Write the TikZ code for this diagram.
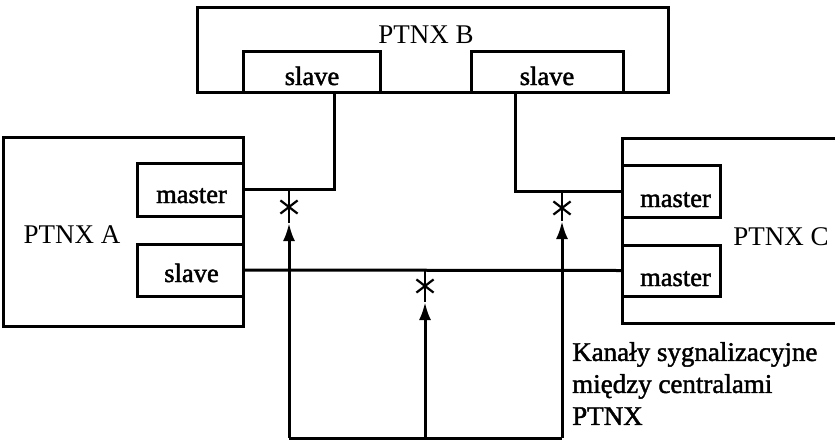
\documentclass[tikz,border=0pt]{standalone}
\usepackage{fontspec}
\setmainfont{Liberation Serif}
\newfontfamily\heavyfont[FakeBold=1.6]{Liberation Serif}
\usetikzlibrary{arrows.meta,shapes.misc}
\tikzset{
  box/.style={draw, line width=3pt, inner sep=0pt, outer sep=0pt, rectangle},
  big/.style={font=\fontsize{27}{30}\selectfont, inner sep=0pt, anchor=base},
  small/.style={font=\heavyfont\fontsize{26.5}{30}\selectfont, inner sep=0pt, anchor=base},
  conn/.style={line width=3pt},
  thinconn/.style={line width=1.5pt},
  arr/.style={line width=3pt, -{Latex[length=18pt,width=12pt]}},
  ast/.style={cross out, draw, line width=2.2pt, minimum width=15pt, minimum height=11pt, inner sep=0pt}
}
\begin{document}
\begin{tikzpicture}[x=1pt,y=-1pt]
\clip (0,0) rectangle (835,440);
\fill[white] (0,0) rectangle (835,440);
% boxes
\node[box, minimum width=239.5pt, minimum height=189pt] (A) at (123.25,231.5) {};
\node[box, minimum width=106pt, minimum height=53pt] (MA) at (190,189.5) {};
\node[box, minimum width=106pt, minimum height=52pt] (SA) at (190,270) {};
\node[box, minimum width=471pt, minimum height=85pt] (B) at (432.5,49.5) {};
\node[box, minimum width=137pt, minimum height=41pt] (SBL) at (311.5,71.5) {};
\node[box, minimum width=152pt, minimum height=41pt] (SBR) at (547,71.5) {};
\node[box, minimum width=238pt, minimum height=185pt] (C) at (741,230.5) {};
\node[box, minimum width=98pt, minimum height=52pt] (MC1) at (671,191) {};
\node[box, minimum width=98pt, minimum height=51pt] (MC2) at (671,270.5) {};
% labels
\node[big] (Blab) at (426,43) {PTNX B};
\node[big] (Alab) at (72,243) {PTNX A};
\node[big] (Clab) at (781,245) {PTNX C};
\node[small] (SBLlab) at (312,85) {slave};
\node[small] (SBRlab) at (547,85) {slave};
\node[small] (MAlab) at (191.5,203) {master};
\node[small] (SAlab) at (191.5,282) {slave};
\node[small] (MC1lab) at (675.5,207) {master};
\node[small] (MC2lab) at (675.5,286) {master};
\node[font=\heavyfont\fontsize{27}{32}\selectfont, align=left, inner sep=0pt, anchor=north west] (K) at (572,342)
  {Kanały sygnalizacyjne\\między centralami\\PTNX};
% junction coordinates
\coordinate (jL) at (334,189.5);
\coordinate (jR) at (515,191);
\coordinate (j1) at (289,189.5);
\coordinate (j2) at (425,270);
\coordinate (j3) at (562,191);
\coordinate (t1) at (289,223);
\coordinate (t2) at (425,302);
\coordinate (t3) at (562,221);
\coordinate (b1) at (289,438);
\coordinate (b2) at (425,438);
\coordinate (b3) at (562,438);
% connectors between ports
\draw[conn] (SBL.south -| jL) |- (MA.east);
\draw[conn] (SBR.south -| jR) |- (MC1.west);
\draw[conn] (SA.east) -- (MC2.west);
% signalling channels
\draw[conn] (b1) -- (b3);
\draw[arr] (b1) -- (t1);
\draw[arr] (b2) -- (t2);
\draw[arr] (b3) -- (t3);
\draw[thinconn] (t1) -- (j1);
\draw[thinconn] (t2) -- (j2);
\draw[thinconn] (t3) -- (j3);
\node[ast] (x1) at (289,207) {};
\node[ast] (x2) at (425,286) {};
\node[ast] (x3) at (562,208) {};
\end{tikzpicture}
\end{document}
